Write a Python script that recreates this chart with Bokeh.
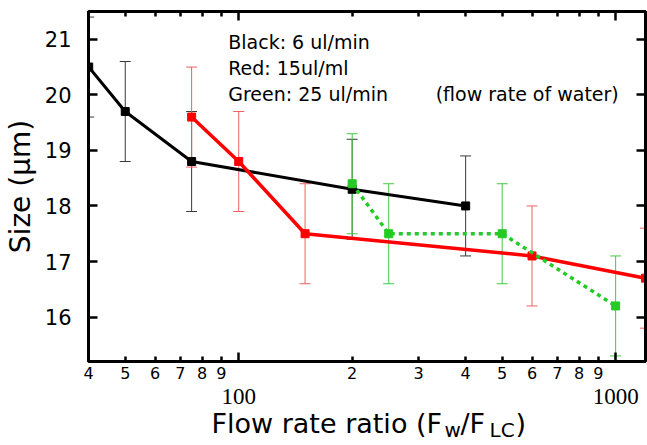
from bokeh.plotting import figure
from bokeh.layouts import column
from bokeh.models import (Range1d, LogAxis, LinearAxis, FixedTicker, Whisker,
                          ColumnDataSource, Label, TeeHead)
from bokeh.embed import file_html
from bokeh.resources import INLINE

# ---------------- data ----------------
black_x = [40, 50, 75, 200, 400]
black_y = [20.5, 19.7, 18.8, 18.3, 18.0]
black_err = [0.9, 0.9, 0.9, 0.9, 0.9]

red_x = [75, 100, 150, 600, 1200]
red_y = [19.6, 18.8, 17.5, 17.1, 16.7]
red_err = [0.9, 0.9, 0.9, 0.9, 0.9]

green_x = [200, 250, 500, 1000]
green_y = [18.4, 17.5, 17.5, 16.2]
green_err = [0.9, 0.9, 0.9, 0.9]

y_ticks = [16, 17, 18, 19, 20, 21]
x_minor_ticks = [40, 50, 60, 70, 80, 90, 200, 300, 400, 500, 600, 700, 800, 900]
x_minor_labels = ["4", "5", "6", "7", "8", "9", "2", "3", "4", "5", "6", "7", "8", "9"]
x_major_ticks = [100, 1000]
x_major_labels = ["100", "1000"]

legend_lines = ["Black: 6 ul/min", "Red: 15ul/ml", "Green: 25 ul/min"]
note_text = "(flow rate of water)"
x_title_parts = ["Flow rate ratio (F", "w", "/F", "LC", ")"]

FONT = "DejaVu Sans"

x_range = Range1d(39.95, 1200)
p = figure(width=647, height=385, x_axis_type="log",
           x_range=x_range, y_range=Range1d(15.2, 21.5),
           output_backend="svg", toolbar_location=None,
           x_axis_location=None, y_axis_location=None,
           min_border_left=87, min_border_right=2, min_border_top=11, min_border_bottom=24)
p.grid.visible = False
p.outline_line_color = "black"
p.outline_line_width = 3
p.background_fill_color = "white"
p.border_fill_color = "white"


def style_axis(ax):
    ax.axis_line_width = 3
    ax.axis_line_color = "black"
    ax.major_tick_line_width = 2.5
    ax.minor_tick_line_width = 2.5
    ax.major_tick_line_color = "black"
    ax.minor_tick_line_color = "black"
    ax.major_tick_out = 0
    ax.minor_tick_out = 0
    ax.major_label_text_color = "black"
    ax.major_label_text_font = FONT


def hide_labels(ax):
    ax.major_label_text_color = None
    ax.major_label_text_font_size = "1px"
    ax.major_label_standoff = 0


# left axis
ly = LinearAxis(ticker=FixedTicker(ticks=y_ticks, minor_ticks=[]))
style_axis(ly)
ly.major_tick_in = 9
ly.major_label_text_font_size = "21px"
ly.major_label_standoff = 17
ly.axis_label = "Size (μm)"
ly.axis_label_text_font = FONT
ly.axis_label_text_font_size = "28px"
ly.axis_label_text_font_style = "normal"
ly.axis_label_text_color = "black"
ly.axis_label_standoff = 5
p.add_layout(ly, "left")

# right axis (ticks only)
ry = LinearAxis(ticker=FixedTicker(ticks=y_ticks, minor_ticks=[]))
style_axis(ry)
ry.major_tick_in = 9
hide_labels(ry)
p.add_layout(ry, "right")

# bottom axis: small digit labels, longer ticks at the decades
xa = LogAxis(ticker=FixedTicker(ticks=x_minor_ticks, minor_ticks=x_major_ticks))
style_axis(xa)
xa.major_tick_in = 5
xa.minor_tick_in = 9
xa.major_label_text_font_size = "16px"
xa.major_label_standoff = 5
xa.major_label_overrides = {t: l for t, l in zip(x_minor_ticks, x_minor_labels)}
p.add_layout(xa, "below")

# top axis (ticks only)
xt = LogAxis(ticker=FixedTicker(ticks=x_minor_ticks, minor_ticks=x_major_ticks))
style_axis(xt)
xt.major_tick_in = 5
xt.minor_tick_in = 9
hide_labels(xt)
p.add_layout(xt, "above")


def add_series(xs, ys, errs, color, err_color, width, dash=None):
    src = ColumnDataSource(dict(x=xs, y=ys,
                                upper=[y + e for y, e in zip(ys, errs)],
                                lower=[y - e for y, e in zip(ys, errs)]))
    w = Whisker(base="x", upper="upper", lower="lower", source=src,
                line_color=err_color, line_width=1,
                upper_head=TeeHead(size=11, line_color=err_color, line_width=1),
                lower_head=TeeHead(size=11, line_color=err_color, line_width=1))
    p.add_layout(w)
    kw = dict(line_color=color, line_width=width)
    if dash:
        kw["line_dash"] = dash
    p.line("x", "y", source=src, **kw)
    p.scatter("x", "y", source=src, marker="square", size=8,
              fill_color=color, line_color=color)


add_series(black_x, black_y, black_err, "black", "#3a3a3a", 3)
add_series(red_x, red_y, red_err, "#ff0000", "#f06060", 3.5)
add_series(green_x, green_y, green_err, "#22cc22", "#44c944", 3.5, dash="4 4")

# text annotations inside the plot
for txt, yy in zip(legend_lines, [20.95, 20.48, 20.02]):
    p.add_layout(Label(x=93.8, y=yy, text=txt, text_font=FONT, text_font_size="19px",
                       text_color="black", text_baseline="alphabetic"))
p.add_layout(Label(x=333, y=20.02, text=note_text, text_font=FONT, text_font_size="19px",
                   text_color="black", text_baseline="alphabetic"))

# ---- lower strip: decade labels and the x title with subscripts ----
p2 = figure(width=647, height=60, x_axis_type="log", x_range=x_range,
            y_range=Range1d(0, 60), output_backend="svg", toolbar_location=None,
            x_axis_location=None, y_axis_location=None,
            min_border_left=87, min_border_right=2, min_border_top=0, min_border_bottom=0)
p2.grid.visible = False
p2.outline_line_color = None
p2.background_fill_color = "white"
p2.border_fill_color = "white"

p2.text(x=x_major_ticks, y=[49, 49], text=x_major_labels, text_font="DejaVu Sans",
        text_font_size="23px", text_color="black", text_align="center",
        text_baseline="alphabetic")

title_pos = [(123, 22, "27px"), (356, 16, "20px"), (372, 22, "27px"),
             (401, 16, "20px"), (427, 22, "27px")]
for txt, (sx, sy, fs) in zip(x_title_parts, title_pos):
    p2.add_layout(Label(x=sx, y=sy, x_units="screen", y_units="screen", text=txt,
                        text_font=FONT, text_font_size=fs, text_color="black",
                        text_baseline="alphabetic"))

layout = column(p, p2, spacing=0)
open("out.html", "w").write(file_html(layout, INLINE))
